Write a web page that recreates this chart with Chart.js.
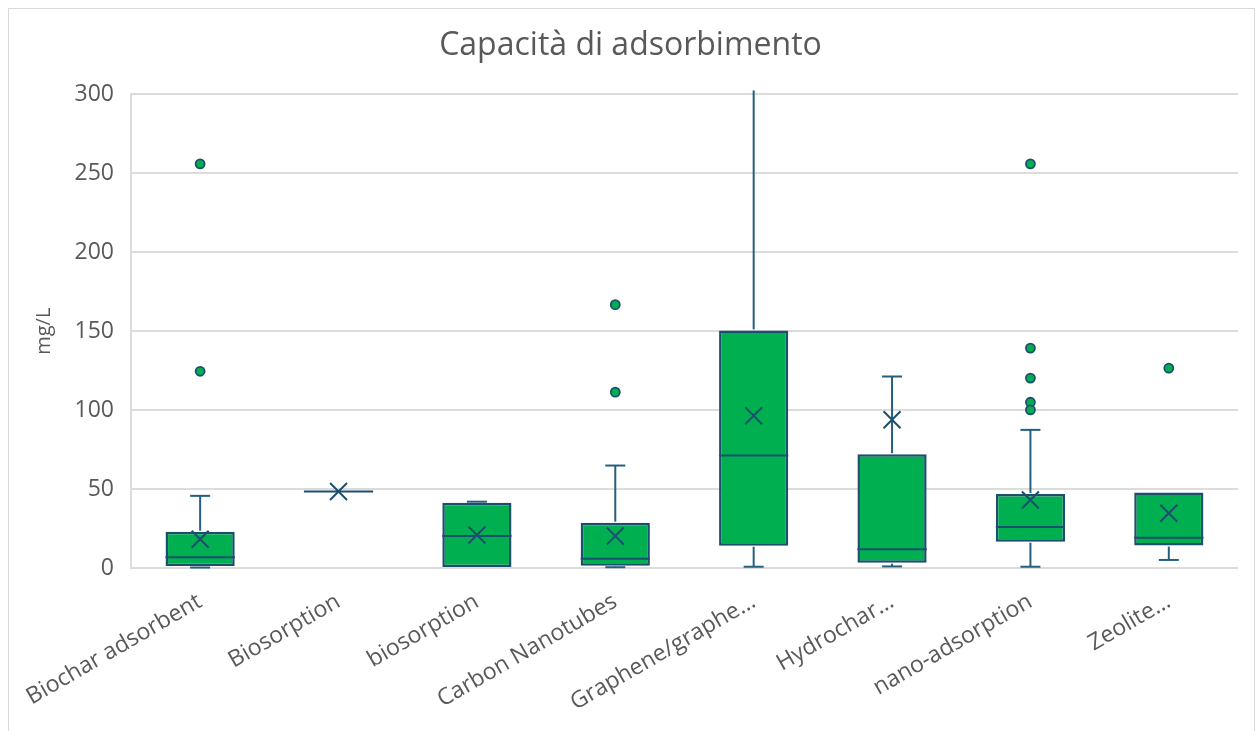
<!DOCTYPE html>
<html>
<head>
<meta charset="utf-8">
<script src="https://cdn.jsdelivr.net/npm/chart.js@4.4.1/dist/chart.umd.min.js"></script>
<style>
    html, body { margin: 0; padding: 0; background: #fff; overflow: hidden; }
    .frame {
        position: absolute;
        left: 8px;
        top: 8px;
        width: 1247px;
        height: 723px;
        box-sizing: border-box;
        border: 1px solid #d9d9d9;
        border-bottom: none;
    }
    .plot {
        position: absolute;
        left: 0;
        top: 0;
        right: 2px;
        bottom: 0;
    }
    canvas { display: block; }
</style>
</head>
<body>
<div class="frame"><div class="plot"><canvas id="boxChart"></canvas></div></div>
<script>
// Box plot: Capacità di adsorbimento (mg/L)

const categories = ['Biochar adsorbent', 'Biosorption', 'biosorption', 'Carbon Nanotubes',
    'Graphene/graphe…', 'Hydrochar…', 'nano-adsorption', 'Zeolite…'];

const whiskerLow  = [0.3, 48.4, 0, 0.5, 0.8, 1.0, 0.8, 5.1];
const q1          = [1.3, 48.4, 0, 1.5, 14.1, 3.4, 16.7, 14.2];
const median      = [6.8, 48.4, 20.3, 5.9, 71.2, 11.9, 26.0, 19.2];
const q3          = [23.0, 48.4, 41.4, 28.7, 150.5, 72.1, 46.9, 47.8];
const whiskerHigh = [45.7, 48.4, 42.0, 64.9, 420, 121.3, 87.5, 47.8];
const means       = [18.2, 48.5, 20.9, 20.3, 96.4, 93.9, 43.1, 34.7];
const outliers    = [[256, 124.6], [], [], [166.8, 111.4], [], [], [256, 139.3, 120.3, 105, 100.2], [126.6]];

const yTicks = { min: 0, max: 300, step: 50 };

const colors = {
    box: '#00b050',
    line: '#1c4f6e',
    whisker: '#245f7f',
    grid: '#dcdcdc',
    text: '#595959'
};

const FONT = "'Open Sans', 'DejaVu Sans', sans-serif";

// whiskers + median lines drawn with the chart's own scales
const boxLines = {
    id: 'boxLines',
    afterDatasetDraw(chart, args) {
        if (args.index !== 0) return;
        const ctx = chart.ctx;
        const y = chart.scales.y;
        const top = chart.chartArea.top - 4;
        const meta = chart.getDatasetMeta(0);
        const line = (x1, y1, x2, y2) => {
            ctx.beginPath();
            ctx.moveTo(x1, y1);
            ctx.lineTo(x2, y2);
            ctx.stroke();
        };
        ctx.save();
        ctx.lineWidth = 2;
        meta.data.forEach((bar, i) => {
            const x = bar.x;
            const half = bar.width / 2;
            const cap = 10;
            ctx.strokeStyle = colors.whisker;
            // upper whisker
            if (whiskerHigh[i] > q3[i]) {
                const yHi = y.getPixelForValue(whiskerHigh[i]);
                line(x, y.getPixelForValue(q3[i]) - 1, x, Math.max(yHi, top));
                if (yHi >= top) line(x - cap, yHi, x + cap, yHi);
            }
            // lower whisker
            if (whiskerLow[i] < q1[i]) {
                const yLo = y.getPixelForValue(whiskerLow[i]);
                line(x, y.getPixelForValue(q1[i]) + 1, x, yLo);
                line(x - cap, yLo, x + cap, yLo);
            }
            // median
            ctx.strokeStyle = colors.line;
            const yMed = y.getPixelForValue(median[i]);
            line(x - half, yMed, x + half, yMed);
        });
        ctx.restore();
    }
};

const outlierPoints = [];
outliers.forEach((vals, i) => {
    vals.forEach(v => outlierPoints.push({ x: categories[i], y: v }));
});

const ctx = document.getElementById('boxChart').getContext('2d');

new Chart(ctx, {
    type: 'bar',
    data: {
        labels: categories,
        datasets: [
            {
                label: 'box',
                data: categories.map((c, i) => [q1[i], q3[i]]),
                backgroundColor: colors.box,
                borderColor: colors.line,
                borderWidth: 2.5,
                borderSkipped: false,
                barPercentage: 1,
                categoryPercentage: 0.5,
                order: 3
            },
            {
                type: 'line',
                label: 'media',
                data: categories.map((c, i) => ({ x: c, y: means[i] })),
                showLine: false,
                pointStyle: 'crossRot',
                pointRadius: 12,
                borderColor: colors.line,
                borderWidth: 2,
                order: 1
            },
            {
                type: 'line',
                label: 'outlier',
                data: outlierPoints,
                showLine: false,
                pointStyle: 'circle',
                pointRadius: 4.5,
                backgroundColor: colors.box,
                borderColor: colors.line,
                borderWidth: 1.8,
                order: 0
            }
        ]
    },
    options: {
        responsive: true,
        maintainAspectRatio: false,
        animation: false,
        layout: { padding: 0 },
        plugins: {
            legend: { display: false },
            tooltip: { enabled: false },
            title: {
                display: true,
                text: 'Capacità di adsorbimento',
                color: colors.text,
                font: { family: FONT, size: 32, weight: 'normal' },
                padding: { top: 18, bottom: 29 }
            }
        },
        scales: {
            x: {
                type: 'category',
                grid: { display: false },
                border: { display: false },
                ticks: {
                    color: colors.text,
                    font: { family: FONT, size: 23 },
                    maxRotation: 30,
                    minRotation: 30,
                    autoSkip: false,
                    padding: 12
                },
                afterFit(scale) { scale.height = 163; }
            },
            y: {
                min: yTicks.min,
                max: yTicks.max,
                grid: { color: colors.grid, lineWidth: 2, drawTicks: false },
                border: { display: true, color: colors.grid, width: 2 },
                ticks: {
                    stepSize: yTicks.step,
                    color: colors.text,
                    font: { family: FONT, size: 23 },
                    padding: 17
                },
                title: {
                    display: true,
                    text: 'mg/L',
                    color: colors.text,
                    font: { family: FONT, size: 20 },
                    padding: { top: 22, bottom: 0 }
                },
                afterFit(scale) { scale.width = 121; }
            }
        }
    },
    plugins: [boxLines]
});
</script>
</body>
</html>
